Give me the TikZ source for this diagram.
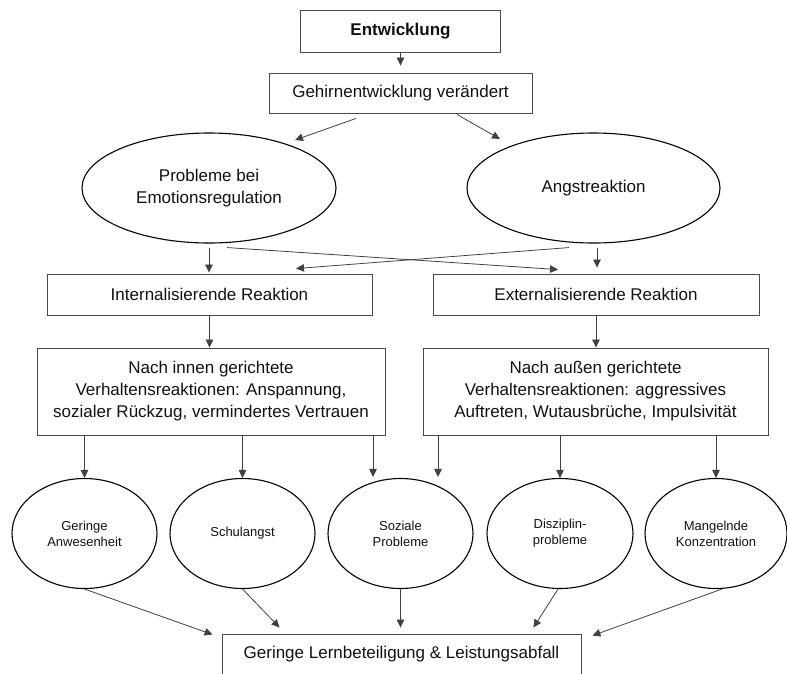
\documentclass[tikz,border=0pt]{standalone}
\usepackage{fontspec}
\setmainfont{Liberation Sans}
\usepackage{xcolor}
\usepackage{tikz}
\usetikzlibrary{arrows.meta,calc,positioning,shapes.geometric}
\definecolor{ink}{HTML}{111111}
\definecolor{edge}{HTML}{4A4A4A}
\definecolor{wire}{HTML}{404040}
\tikzset{
  box/.style={draw=edge,line width=.9pt,rectangle,inner sep=0pt,align=center,text=ink,font=\fontsize{17}{22}\selectfont},
  oval/.style={draw=black,line width=1.1pt,ellipse,inner sep=0pt,align=center,text=ink,font=\fontsize{17}{22}\selectfont},
  smalloval/.style={oval,font=\fontsize{13}{16}\selectfont},
  arr/.style={-{Triangle[length=8pt,width=7.5pt]},draw=wire,line width=.8pt}
}
\begin{document}
\begin{tikzpicture}[x=1pt,y=-1pt]
  \useasboundingbox (0,0) rectangle (787,673);
  \node[box,minimum width=200,minimum height=42,font=\fontsize{17}{22}\selectfont\bfseries] (ent) at (400.5,31) {Entwicklung};
  \node[box,minimum width=263,minimum height=40] (geh) at (400.5,93) {Gehirnentwicklung verändert};
  \node[oval,minimum width=254,minimum height=110] (pe) at (209,188) {Probleme bei\\Emotionsregulation};
  \node[oval,minimum width=253,minimum height=110] (ang) at (593.5,188) {Angstreaktion};
  \node[box,minimum width=325,minimum height=41] (intl) at (209.5,294.5) {Internalisierende Reaktion};
  \node[box,minimum width=326,minimum height=41] (extl) at (596,294.5) {Externalisierende Reaktion};
  \node[box,minimum width=348,minimum height=87] (inn) at (211,391.5) {Nach innen gerichtete\\Verhaltensreaktionen: Anspannung,\\sozialer Rückzug, vermindertes Vertrauen};
  \node[box,minimum width=345,minimum height=87] (aus) at (595.5,391.5) {Nach außen gerichtete\\Verhaltensreaktionen: aggressives\\Auftreten, Wutausbrüche, Impulsivität};
  \node[smalloval,minimum width=145,minimum height=110] (ga) at (84.5,533.5) {Geringe\\Anwesenheit};
  \node[smalloval,minimum width=145,minimum height=110] (sa) at (242.5,533.5) {Schulangst};
  \node[smalloval,minimum width=145,minimum height=110] (sp) at (400.5,533.5) {Soziale\\Probleme};
  \node[smalloval,minimum width=146,minimum height=110] (dp) at (560,533.5) {Disziplin-\\probleme};
  \node[smalloval,minimum width=142,minimum height=110] (mk) at (716,533.5) {Mangelnde\\Konzentration};
  \node[box,minimum width=359,minimum height=50,text height=12pt,text depth=14pt] (res) at (401.5,659) {Geringe Lernbeteiligung \& Leistungsabfall};
  \draw[arr,shorten >=7pt] (ent.south) -- (geh.north);
  \draw[arr] ([xshift=-44.5pt,yshift=-5pt]geh.south) -- ([xshift=86pt,yshift=48pt]pe.center);
  \draw[arr] ([xshift=56.5pt,yshift=-1pt]geh.south) -- ([xshift=-93.5pt,yshift=49pt]ang.center);
  \draw[arr] ([yshift=-4pt]pe.south) -- ([yshift=1pt]pe.south |- intl.north);
  \draw[arr] ([xshift=3.5pt,yshift=-4pt]ang.south) -- ([xshift=3.5pt,yshift=6pt]ang.south |- extl.north);
  \draw[arr] ([xshift=18pt,yshift=-4pt]pe.south) -- ([xshift=-38pt,yshift=4pt]extl.north);
  \draw[arr] ([xshift=-24.5pt,yshift=-4pt]ang.south) -- ([xshift=86.5pt,yshift=5pt]intl.north);
  \draw[arr] (intl.south) -- (intl.south |- inn.north);
  \draw[arr] (extl.south) -- (extl.south |- aus.north);
  \draw[arr] (ga.north |- inn.south) -- (ga.north);
  \draw[arr] (sa.north |- inn.south) -- (sa.north);
  \draw[arr] ([xshift=162pt]inn.south) -- ([xshift=162pt,yshift=1pt]inn.south |- sp.north);
  \draw[arr] ([xshift=-157.5pt]aus.south) -- ([xshift=-157.5pt,yshift=1pt]aus.south |- sp.north);
  \draw[arr] (dp.north |- aus.south) -- (dp.north);
  \draw[arr] (mk.north |- aus.south) -- (mk.north);
  \draw[arr] (ga.south) -- ([xshift=-9pt,yshift=-1pt]res.north west);
  \draw[arr] (sa.south) -- ([xshift=58pt,yshift=6pt]res.north west);
  \draw[arr] (sp.south) -- ([yshift=6pt]sp.south |- res.north);
  \draw[arr] ([xshift=-2pt]dp.south) -- ([xshift=-48pt,yshift=6pt]res.north east);
  \draw[arr] ([xshift=6pt]mk.south) -- ([xshift=11pt,yshift=-2pt]res.north east);
\end{tikzpicture}
\end{document}
